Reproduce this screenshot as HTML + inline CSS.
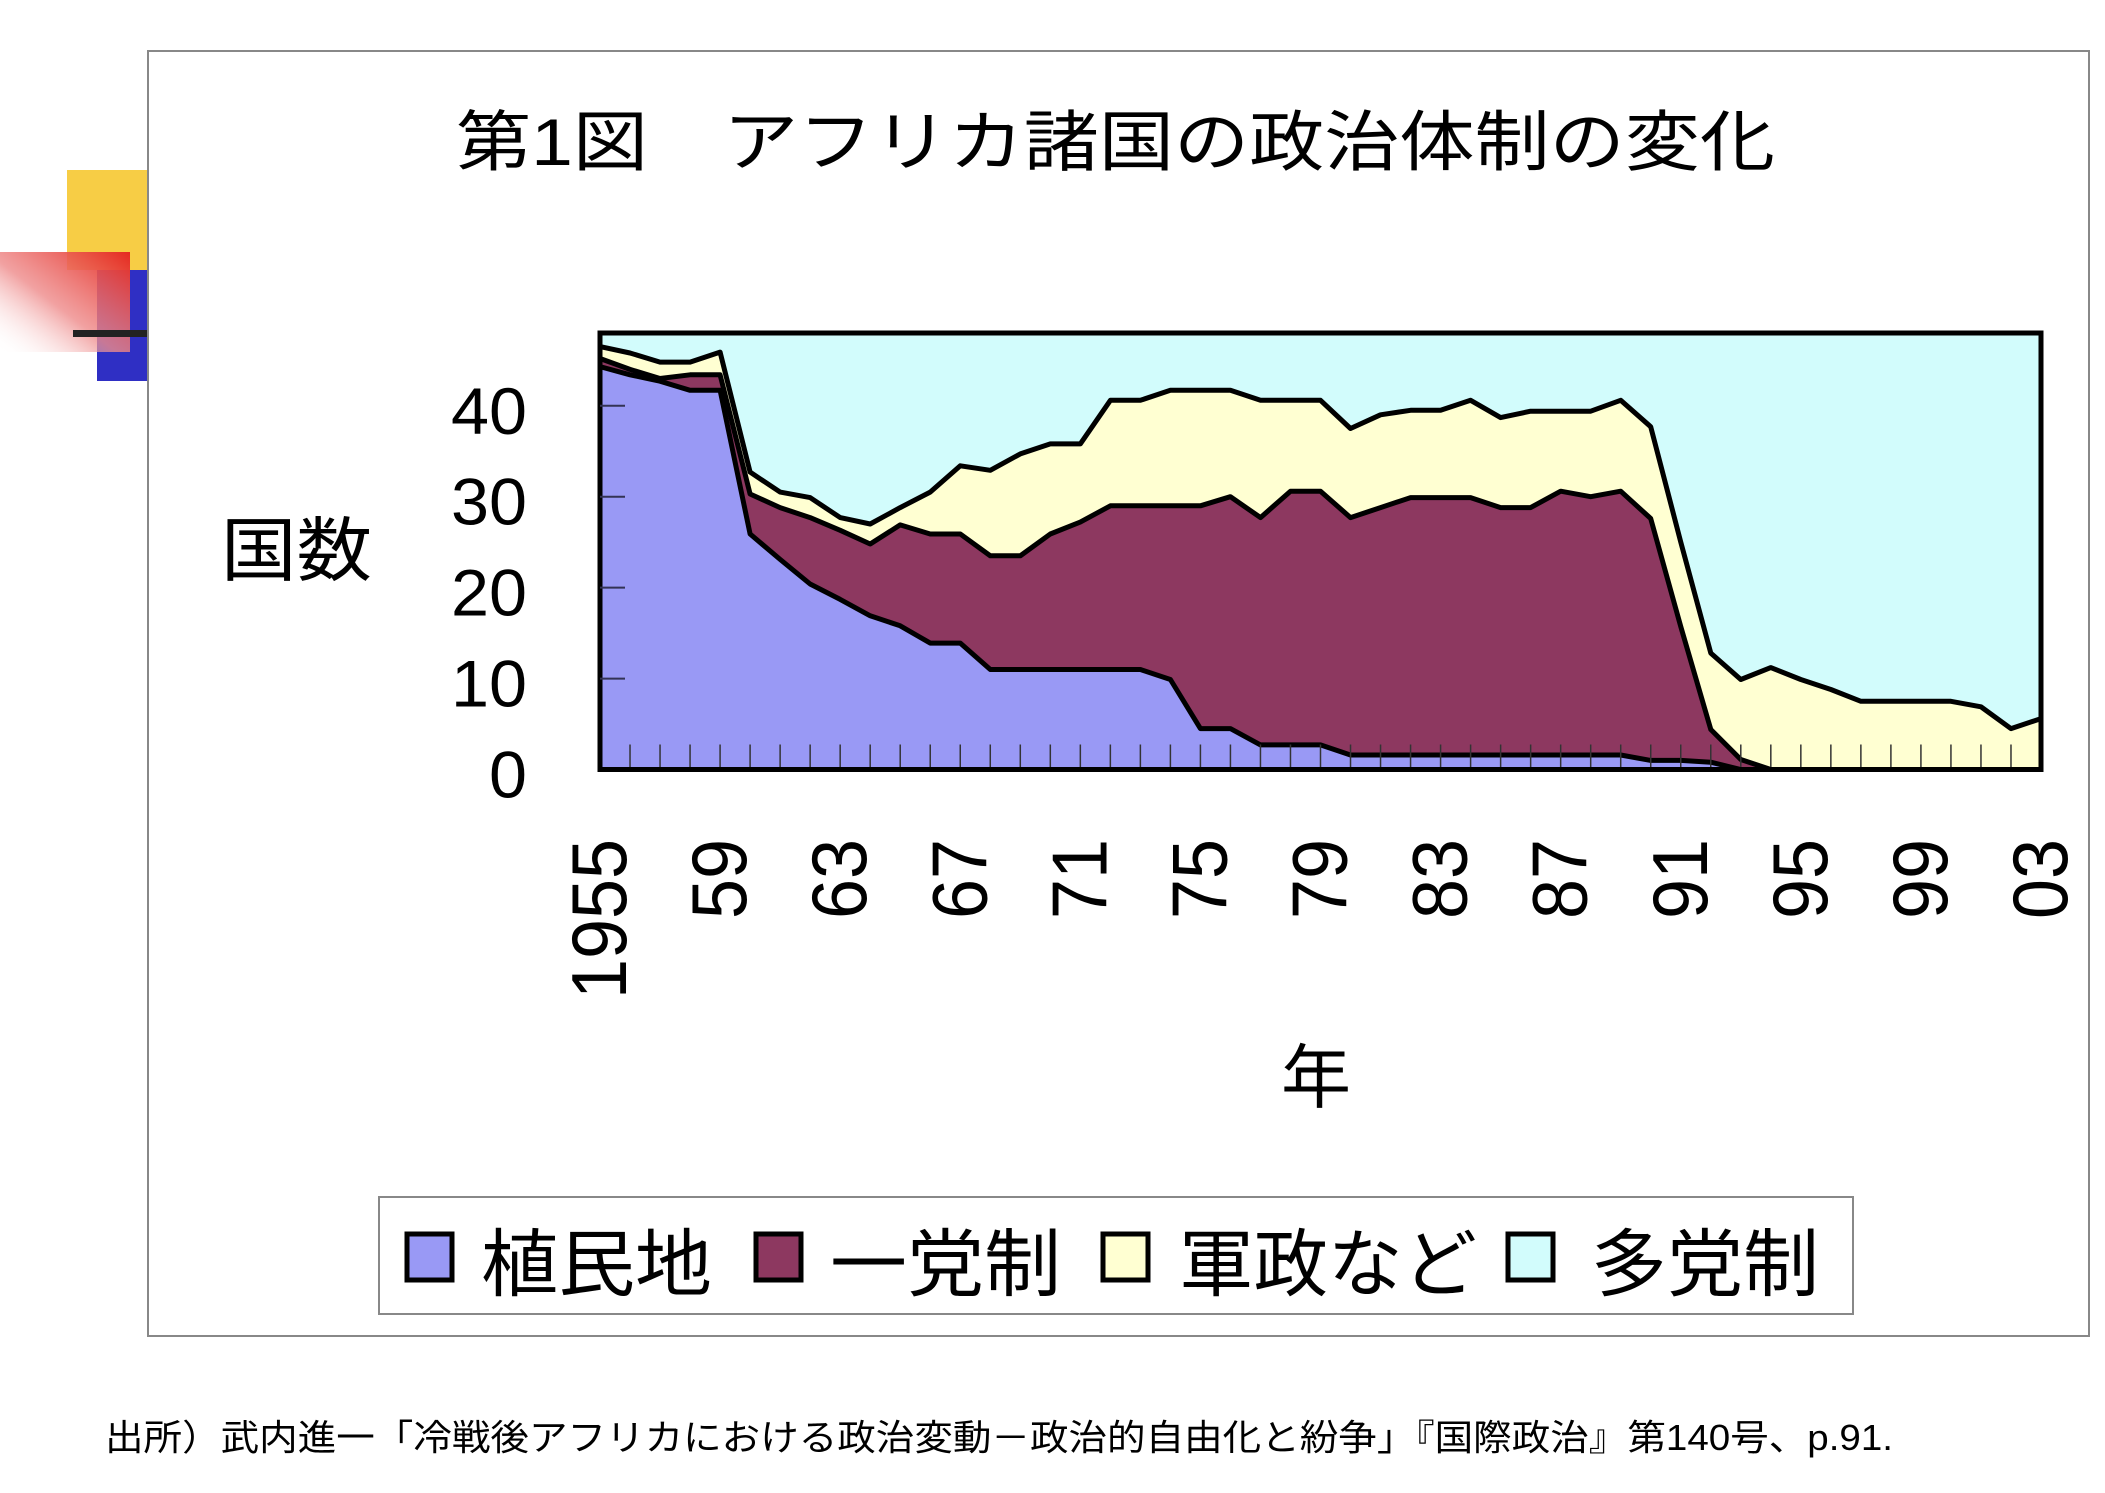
<!DOCTYPE html>
<html><head><meta charset="utf-8"><style>
html,body{margin:0;padding:0;background:#fff;}
svg{display:block;}
text{font-family:"Liberation Sans","Noto Sans CJK JP",sans-serif;fill:#000;}
</style></head><body>
<svg id="chart" width="2105" height="1493" viewBox="0 0 2105 1493" xmlns="http://www.w3.org/2000/svg">
<defs>
<linearGradient id="redg" x1="1" y1="0" x2="0" y2="1">
<stop offset="0" stop-color="#e52a20"/><stop offset="0.55" stop-color="#ee8a8a" stop-opacity="0.8"/><stop offset="1" stop-color="#fff" stop-opacity="0"/>
</linearGradient>
</defs>
<rect x="67" y="170" width="81" height="100" fill="#f7cd45"/>
<rect x="97" y="270" width="51" height="111" fill="#2f2fc4"/>
<rect x="0" y="252" width="130" height="100" fill="url(#redg)"/>
<rect x="73" y="330" width="75" height="7" fill="#222"/>
<rect x="148" y="51" width="1941" height="1285" fill="none" stroke="#888" stroke-width="2"/>
<text x="456" y="165" font-size="66" textLength="1319" lengthAdjust="spacingAndGlyphs">第1図　アフリカ諸国の政治体制の変化</text>
<text x="221" y="575" font-size="70" textLength="151" lengthAdjust="spacingAndGlyphs">国数</text>
<g id="plot"></g>
<g id="yticks"></g>
<g id="xticks"></g>
<text x="1316" y="1102" font-size="70" text-anchor="middle">年</text>
<g>
<rect x="379" y="1197" width="1474" height="117" fill="#fff" stroke="#888" stroke-width="2"/>
<rect x="407" y="1234" width="45" height="46" fill="#9999f5" stroke="#000" stroke-width="5"/>
<text x="481" y="1290" font-size="74" textLength="231" lengthAdjust="spacingAndGlyphs">植民地</text>
<rect x="756" y="1234" width="45" height="46" fill="#8d3860" stroke="#000" stroke-width="5"/>
<text x="830" y="1290" font-size="74" textLength="231" lengthAdjust="spacingAndGlyphs">一党制</text>
<rect x="1103" y="1234" width="45" height="46" fill="#ffffd2" stroke="#000" stroke-width="5"/>
<text x="1179" y="1290" font-size="74" textLength="298" lengthAdjust="spacingAndGlyphs">軍政など</text>
<rect x="1508" y="1234" width="45" height="46" fill="#d2fcfc" stroke="#000" stroke-width="5"/>
<text x="1591" y="1290" font-size="74" textLength="228" lengthAdjust="spacingAndGlyphs">多党制</text>
</g>
<text x="105" y="1450" font-size="36" textLength="1788" lengthAdjust="spacingAndGlyphs">出所）武内進一「冷戦後アフリカにおける政治変動－政治的自由化と紛争」『国際政治』第140号、p.91.</text>
</svg>
<script>
const startYear = 1955;
const endYear = 2003;
const colony = [44.3,43.4,42.7,41.7,41.7,25.9,23.1,20.4,18.7,16.9,15.8,13.9,13.9,
 11,11,11,11,11,11,9.9,4.5,4.5,2.7,2.7,2.7,
 1.6,1.6,1.6,1.6,1.6,1.6,1.6,1.6,1.6,1.6,1.0,1.0,
 0.8,0,0,0,0,0,0,0,0,0,0,0];
const oneParty = [0.9,0.6,0.3,1.7,1.7,4.4,5.7,7.3,7.6,7.9,11.1,12.0,12.0,
 12.5,12.5,14.9,16.2,18,18,19.1,24.5,25.5,25,27.9,27.9,
 26.1,27.2,28.3,28.3,28.3,27.2,27.2,29,28.4,29,26.6,14.7,
 3.6,1.1,0,0,0,0,0,0,0,0,0,0];
const military = [1.3,1.8,1.8,1.4,2.5,2.4,1.7,2.2,1.4,2.2,1.9,4.6,7.5,
 9.4,11.2,9.9,8.6,11.6,11.6,12.7,12.7,11.7,12.9,10,10,
 9.8,10.2,9.6,9.6,10.7,9.9,10.6,8.8,9.4,10,10.1,9.3,
 8.4,8.8,11.2,9.9,8.8,7.5,7.5,7.5,7.5,6.9,4.5,5.6];
const multiParty = [1.5,2.2,3.2,3.2,2.1,15.3,17.5,18.1,20.3,21,19.2,17.5,14.6,
 15.1,13.3,12.2,12.2,7.4,7.4,6.3,6.3,6.3,7.4,7.4,7.4,
 10.5,9,8.5,8.5,7.4,9.3,8.6,8.6,8.6,7.4,10.3,23,
 35.2,38.1,36.8,38.1,39.2,40.5,40.5,40.5,40.5,41.1,43.5,42.4];
const yTicks = [0,10,20,30,40];
const xTickLabels = ["1955","59","63","67","71","75","79","83","87","91","95","99","03"];
const xTickYears = [1955,1959,1963,1967,1971,1975,1979,1983,1987,1991,1995,1999,2003];

const NS = "http://www.w3.org/2000/svg";
const PX0 = 600, PX1 = 2041, PY0 = 769.5, PY1 = 333, YMAX = 48;
function xs(yr){ return PX0 + (yr - startYear) * (PX1 - PX0) / (endYear - startYear); }
function ys(v){ return PY0 - v * (PY0 - PY1) / YMAX; }
function mk(tag, attrs){ const e = document.createElementNS(NS, tag); for (const k in attrs) e.setAttribute(k, attrs[k]); return e; }

const plot = document.getElementById('plot');
const series = [colony, oneParty, military, multiParty];
const fills = ["#9999f5", "#8d3860", "#ffffd2", "#d2fcfc"];
const names = ["area-colony", "area-one-party", "area-military", "area-multi-party"];
const n = colony.length;
let base = new Array(n).fill(0);
const tops = [];
for (let s = 0; s < series.length; s++) {
  const top = base.map((b, i) => b + series[s][i]);
  tops.push({ base: base.slice(), top: top });
  base = top;
}
for (let s = series.length - 1; s >= 0; s--) {
  const pts = [];
  for (let i = 0; i < n; i++) pts.push(xs(startYear + i).toFixed(1) + "," + ys(tops[s].top[i]).toFixed(1));
  for (let i = n - 1; i >= 0; i--) pts.push(xs(startYear + i).toFixed(1) + "," + ys(0).toFixed(1));
  const p = mk('polygon', { points: pts.join(' '), fill: fills[s], stroke: 'none' });
  
  
  plot.appendChild(p);
}
// boundary lines
for (let s = 0; s < series.length - 1; s++) {
  const pts = [];
  for (let i = 0; i < n; i++) pts.push(xs(startYear + i).toFixed(1) + "," + ys(tops[s].top[i]).toFixed(1));
  const l = mk('polyline', { points: pts.join(' '), fill: 'none', stroke: '#000', 'stroke-width': 5, 'stroke-linejoin': 'round' });
  
  
  plot.appendChild(l);
}
// minor year ticks
for (let yr = startYear + 1; yr < endYear; yr++) {
  const t = mk('line', { x1: xs(yr), x2: xs(yr), y1: PY0, y2: PY0 - 25, stroke: '#333', 'stroke-width': 1.5 });
  
  
  plot.appendChild(t);
}
// plot frame
const fr = mk('rect', { x: PX0, y: PY1, width: PX1 - PX0, height: PY0 - PY1, fill: 'none', stroke: '#000', 'stroke-width': 5 });


plot.appendChild(fr);

const yg = document.getElementById('yticks');
yTicks.forEach(v => {
  if (v > 0) {
    const t = mk('line', { x1: PX0, x2: PX0 + 25, y1: ys(v), y2: ys(v), stroke: '#335', 'stroke-width': 2 });
    
    
    yg.appendChild(t);
  }
  const tx = mk('text', { x: 527, y: ys(v) + 28, 'font-size': 66, 'text-anchor': 'end' });
  tx.setAttribute('textLength', String(v).length * 38);
  tx.setAttribute('lengthAdjust', 'spacingAndGlyphs');
  tx.textContent = String(v);
  
  
  yg.appendChild(tx);
});

const xg = document.getElementById('xticks');
xTickLabels.forEach((lab, i) => {
  const cx = xs(xTickYears[i]) + 26;
  const tx = mk('text', { x: 0, y: 0, 'font-size': 78, 'text-anchor': 'end', transform: 'translate(' + cx + ',839) rotate(-90)' });
  tx.setAttribute('textLength', lab.length * 40);
  tx.setAttribute('lengthAdjust', 'spacingAndGlyphs');
  tx.textContent = lab;
  
  
  xg.appendChild(tx);
});
</script>
</body></html>
